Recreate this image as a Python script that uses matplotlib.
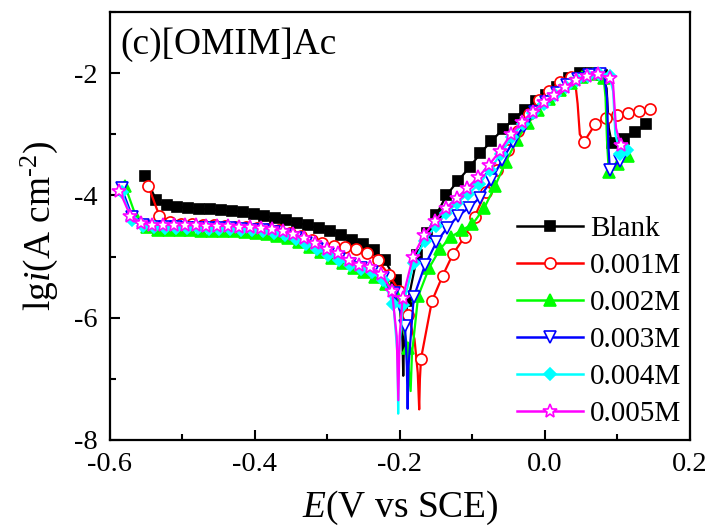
import matplotlib
matplotlib.use("Agg")
import matplotlib.pyplot as plt
from matplotlib.lines import Line2D
from matplotlib.ticker import MultipleLocator

plt.rcParams["font.family"] = ["Liberation Serif", "DejaVu Serif"]
plt.rcParams["mathtext.fontset"] = "custom"
plt.rcParams["mathtext.rm"] = "Liberation Serif"
plt.rcParams["mathtext.it"] = "Liberation Serif:italic"
plt.rcParams["axes.unicode_minus"] = False

# marked points (E in V vs SCE, lg i)
blank_E = [-0.552, -0.536, -0.522, -0.507, -0.492, -0.477, -0.462, -0.447, -0.432, -0.417,
           -0.402, -0.387, -0.372, -0.357, -0.342, -0.327, -0.312, -0.297, -0.281, -0.266,
           -0.251, -0.236, -0.221, -0.206, -0.189, -0.176, -0.163, -0.150, -0.136, -0.120,
           -0.104, -0.089, -0.074, -0.058, -0.043, -0.028, -0.012, 0.002, 0.017, 0.033,
           0.048, 0.064, 0.079, 0.092, 0.109, 0.124, 0.140]
blank_lgi = [-3.68, -4.08, -4.16, -4.19, -4.20, -4.22, -4.23, -4.24, -4.25, -4.27,
             -4.30, -4.33, -4.37, -4.41, -4.45, -4.49, -4.54, -4.59, -4.65, -4.73,
             -4.80, -4.89, -5.06, -5.38, -5.73, -4.98, -4.62, -4.32, -4.00, -3.76,
             -3.54, -3.31, -3.11, -2.92, -2.75, -2.60, -2.46, -2.35, -2.22, -2.08,
             -2.00, -1.99, -2.03, -3.14, -3.07, -2.96, -2.83]
# unmarked points on the line (corrosion dip, passivation drop)
blank_dip_E = [-0.200, -0.1965, -0.1955, -0.1945, -0.192, 0.085, 0.088]
blank_dip_lgi = [-5.85, -6.40, -6.95, -6.40, -5.95, -2.25, -2.90]

red_E = [-0.547, -0.532, -0.517, -0.502, -0.487, -0.472, -0.457, -0.442, -0.427, -0.412,
         -0.397, -0.382, -0.367, -0.352, -0.337, -0.322, -0.307, -0.291, -0.276, -0.261,
         -0.246, -0.231, -0.215, -0.201, -0.189, -0.171, -0.156, -0.141, -0.127, -0.111,
         -0.097, -0.082, -0.066, -0.051, -0.037, -0.022, -0.008, 0.006, 0.021, 0.036,
         0.054, 0.069, 0.084, 0.100, 0.115, 0.130, 0.145]
red_lgi = [-3.85, -4.33, -4.43, -4.46, -4.47, -4.48, -4.49, -4.50, -4.51, -4.52,
           -4.53, -4.55, -4.57, -4.61, -4.66, -4.73, -4.78, -4.82, -4.84, -4.88,
           -4.95, -5.06, -5.30, -5.56, -5.95, -6.67, -5.73, -5.31, -4.96, -4.68,
           -4.35, -3.95, -3.58, -3.25, -2.95, -2.67, -2.44, -2.29, -2.15, -2.06,
           -3.12, -2.84, -2.73, -2.68, -2.65, -2.62, -2.59]
red_dip_E = [-0.180, -0.1755, -0.1735, -0.1725, 0.041, 0.045, 0.048]
red_dip_lgi = [-6.35, -6.90, -7.50, -7.00, -2.08, -2.50, -3.00]

green_E = [-0.579, -0.564, -0.549, -0.534, -0.519, -0.504, -0.489, -0.474, -0.459, -0.444,
           -0.429, -0.414, -0.399, -0.384, -0.369, -0.354, -0.339, -0.324, -0.309, -0.294,
           -0.279, -0.264, -0.249, -0.234, -0.219, -0.204, -0.1895, -0.175, -0.160, -0.145,
           -0.130, -0.115, -0.100, -0.084, -0.069, -0.054, -0.039, -0.024, -0.009, 0.006,
           0.021, 0.036, 0.051, 0.066, 0.081, 0.088, 0.101, 0.114]
green_lgi = [-3.85, -4.35, -4.52, -4.56, -4.57, -4.57, -4.57, -4.58, -4.58, -4.58,
             -4.59, -4.60, -4.61, -4.63, -4.66, -4.70, -4.76, -4.84, -4.93, -5.02,
             -5.10, -5.18, -5.26, -5.33, -5.45, -5.65, -6.49, -5.65, -5.19, -4.88,
             -4.68, -4.57, -4.47, -4.21, -3.85, -3.45, -3.10, -2.82, -2.60, -2.43,
             -2.28, -2.16, -2.06, -2.01, -2.08, -3.62, -3.49, -3.36]
green_dip_E = [-0.1875, -0.1853, -0.1835, 0.0835, 0.0855]
green_dip_lgi = [-6.90, -7.20, -6.60, -2.40, -3.10]

blue_E = [-0.584, -0.569, -0.554, -0.539, -0.524, -0.509, -0.494, -0.479, -0.464, -0.449,
          -0.434, -0.419, -0.404, -0.389, -0.374, -0.359, -0.344, -0.329, -0.314, -0.299,
          -0.284, -0.269, -0.254, -0.239, -0.224, -0.208, -0.193, -0.181, -0.1655, -0.150,
          -0.135, -0.120, -0.105, -0.090, -0.074, -0.059, -0.044, -0.029, -0.014, 0.001,
          0.016, 0.031, 0.046, 0.061, 0.076, 0.0895, 0.103]
blue_lgi = [-3.88, -4.36, -4.48, -4.51, -4.52, -4.52, -4.53, -4.53, -4.54, -4.54,
            -4.54, -4.55, -4.56, -4.57, -4.60, -4.64, -4.70, -4.78, -4.87, -4.96,
            -5.04, -5.12, -5.19, -5.25, -5.35, -5.60, -6.14, -5.66, -5.14, -4.77,
            -4.53, -4.34, -4.20, -4.04, -3.75, -3.42, -3.12, -2.86, -2.64, -2.47,
            -2.33, -2.20, -2.10, -2.03, -2.01, -3.58, -3.43]
blue_dip_E = [-0.1905, -0.1894, -0.1883, 0.082, 0.0855, 0.0875]
blue_dip_lgi = [-6.80, -7.49, -6.80, -2.05, -2.40, -3.20]

cyan_E = [-0.584, -0.569, -0.554, -0.539, -0.524, -0.509, -0.494, -0.479, -0.464, -0.449,
          -0.434, -0.419, -0.404, -0.389, -0.374, -0.359, -0.344, -0.329, -0.314, -0.299,
          -0.284, -0.269, -0.254, -0.239, -0.224, -0.209, -0.196, -0.181, -0.166, -0.151,
          -0.136, -0.121, -0.106, -0.091, -0.076, -0.061, -0.046, -0.031, -0.016, -0.001,
          0.014, 0.029, 0.044, 0.059, 0.074, 0.089, 0.104, 0.113]
cyan_lgi = [-3.95, -4.40, -4.50, -4.52, -4.53, -4.53, -4.54, -4.54, -4.55, -4.55,
            -4.55, -4.56, -4.57, -4.58, -4.61, -4.65, -4.71, -4.79, -4.88, -4.97,
            -5.05, -5.13, -5.20, -5.26, -5.38, -5.78, -5.80, -5.10, -4.74, -4.50,
            -4.29, -4.12, -3.97, -3.82, -3.58, -3.32, -3.04, -2.83, -2.65, -2.50,
            -2.36, -2.23, -2.12, -2.05, -2.01, -2.05, -3.32, -3.26]
cyan_dip_E = [-0.2035, -0.2025, -0.2015, 0.094, 0.097]
cyan_dip_lgi = [-6.60, -7.57, -6.60, -2.30, -3.00]

mag_E = [-0.587, -0.572, -0.557, -0.542, -0.527, -0.512, -0.497, -0.482, -0.467, -0.452,
         -0.437, -0.422, -0.407, -0.392, -0.377, -0.362, -0.347, -0.332, -0.317, -0.301,
         -0.286, -0.271, -0.256, -0.241, -0.226, -0.211, -0.1964, -0.182, -0.167, -0.152,
         -0.137, -0.122, -0.107, -0.092, -0.077, -0.062, -0.047, -0.032, -0.017, -0.002,
         0.013, 0.028, 0.043, 0.058, 0.0735, 0.089, 0.1044]
mag_lgi = [-3.92, -4.33, -4.45, -4.48, -4.48, -4.49, -4.49, -4.49, -4.50, -4.50,
           -4.50, -4.51, -4.52, -4.53, -4.55, -4.58, -4.63, -4.70, -4.78, -4.87,
           -4.95, -5.06, -5.13, -5.17, -5.28, -5.57, -5.68, -5.00, -4.65, -4.42,
           -4.21, -4.05, -3.88, -3.70, -3.50, -3.27, -3.00, -2.80, -2.63, -2.48,
           -2.35, -2.22, -2.11, -2.04, -2.01, -2.08, -3.18]
mag_dip_E = [-0.2045, -0.2023, -0.2005, 0.094, 0.098]
mag_dip_lgi = [-6.30, -7.35, -6.30, -2.20, -2.90]

labels = ["Blank", "0.001M", "0.002M", "0.003M", "0.004M", "0.005M"]

series = [
    (blank_E, blank_lgi, blank_dip_E, blank_dip_lgi, "black", "s", "black", 6.5),
    (red_E, red_lgi, red_dip_E, red_dip_lgi, "#ff0000", "o", "white", 8),
    (green_E, green_lgi, green_dip_E, green_dip_lgi, "#00ff00", "^", "#00ff00", 8),
    (blue_E, blue_lgi, blue_dip_E, blue_dip_lgi, "#0000ff", "v", "white", 8.5),
    (cyan_E, cyan_lgi, cyan_dip_E, cyan_dip_lgi, "#00ffff", "D", "#00ffff", 6.5),
    (mag_E, mag_lgi, mag_dip_E, mag_dip_lgi, "#ff00ff", "*", "white", 10),
]

fig = plt.figure(figsize=(7.09, 5.28), dpi=100)
ax = fig.add_axes([0.1551, 0.1667, 0.8181, 0.8106])

handles = []
for (E, lgi, dE, dl, col, mk, fc, ms), lab in zip(series, labels):
    pts = sorted(zip(E + dE, lgi + dl))
    ax.plot([p[0] for p in pts], [p[1] for p in pts], color=col, lw=1.6)
    ax.plot(E, lgi, ls="none", marker=mk, ms=ms, mfc=fc, mec=col, mew=1.2)
    handles.append(Line2D([], [], color=col, lw=1.8, marker=mk, ms=ms,
                          mfc=fc, mec=col, mew=1.2, label=lab))

ax.set_xlim(-0.6, 0.2)
ax.set_ylim(-8, -1)
ax.xaxis.set_major_locator(MultipleLocator(0.2))
ax.xaxis.set_minor_locator(MultipleLocator(0.1))
ax.yaxis.set_major_locator(MultipleLocator(2))
ax.yaxis.set_minor_locator(MultipleLocator(1))
ax.xaxis.set_major_formatter(matplotlib.ticker.FormatStrFormatter("%.1f"))
ax.tick_params(which="both", direction="in", top=False, right=False, labelsize=20.5, width=1.5)
ax.tick_params(which="major", length=7)
ax.tick_params(which="minor", length=4)
ax.tick_params(axis="x", pad=9)
ax.tick_params(axis="y", pad=9)
for s in ax.spines.values():
    s.set_linewidth(1.6)

ax.set_xlabel(r"$\it{E}$(V vs SCE)", fontsize=27, labelpad=8)
ax.set_ylabel(r"lg$\it{i}$(A cm$^{\text{-2}}$)", fontsize=27, labelpad=10)
ax.text(0.018, 0.965, "(c)[OMIM]Ac", transform=ax.transAxes, fontsize=27, va="top", ha="left")

ax.legend(handles=handles, loc="lower right", bbox_to_anchor=(1.02, -0.018), frameon=False,
          fontsize=21, numpoints=1, handlelength=2.25, handletextpad=0.25, labelspacing=0.365,
          borderaxespad=0.3)

fig.savefig("out.png", dpi=100)
